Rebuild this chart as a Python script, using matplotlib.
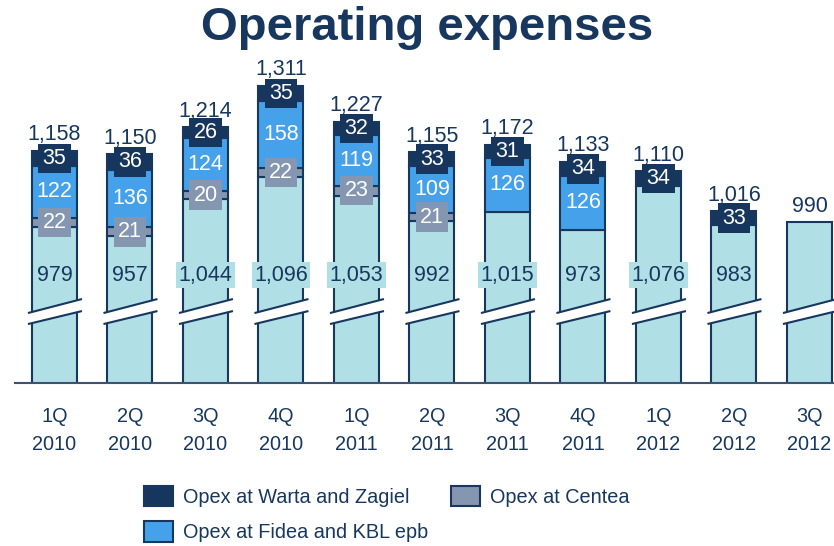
import numpy as np
import matplotlib
matplotlib.use("Agg")
import matplotlib.pyplot as plt
from matplotlib.patches import Patch, Polygon

plt.rcParams['font.family'] = ['Liberation Sans', 'DejaVu Sans']

quarters = ["1Q\n2010", "2Q\n2010", "3Q\n2010", "4Q\n2010", "1Q\n2011", "2Q\n2011",
            "3Q\n2011", "4Q\n2011", "1Q\n2012", "2Q\n2012", "3Q\n2012"]
base = [979, 957, 1044, 1096, 1053, 992, 1015, 973, 1076, 983, 990]
centea = [22, 21, 20, 22, 23, 21, 0, 0, 0, 0, 0]
fidea = [122, 136, 124, 158, 119, 109, 126, 126, 0, 0, 0]
warta = [35, 36, 26, 35, 32, 33, 31, 34, 34, 33, 0]
totals = [1158, 1150, 1214, 1311, 1227, 1155, 1172, 1133, 1110, 1016, 990]

navy = "#17375E"
c_base = "#B0DFE5"
c_centea = "#8496B0"
c_fidea = "#45A2EA"
c_warta = "#17365D"

fig = plt.figure(figsize=(8.34, 5.46), dpi=100)
ax = fig.add_axes([15 / 834, 1 - 383 / 546, 1 - 15 / 834, (383 - 55) / 546])

x = np.arange(len(quarters))
w = 0.596
base_a = np.array(base, float)
centea_a = np.array(centea, float)
fidea_a = np.array(fidea, float)
warta_a = np.array(warta, float)

ax.bar(x, base_a, w, color=c_base, edgecolor=navy, linewidth=1.5, zorder=2)
bottom = base_a.copy()
for vals, col in [(centea_a, c_centea), (fidea_a, c_fidea), (warta_a, c_warta)]:
    m = vals > 0
    ax.bar(x[m], vals[m], w, bottom=bottom[m], color=col, edgecolor=navy,
           linewidth=1.5, zorder=2)
    bottom = bottom + vals

ax.set_ylim(611.9, 1383.7)
ax.set_xlim(-0.523, 10.325)

# axis break marks
for xi in x:
    xl, xr = xi - 0.351, xi + 0.364
    poly = Polygon([(xl, 750.6), (xl, 776.5), (xr, 809.5), (xr, 781.2)],
                   closed=True, facecolor="white", edgecolor="none", zorder=3)
    ax.add_patch(poly)
    ax.plot([xl, xr], [776.5, 809.5], color=navy, lw=1.5, zorder=4,
            solid_capstyle="butt")
    ax.plot([xl, xr], [750.6, 781.2], color=navy, lw=1.5, zorder=4,
            solid_capstyle="butt")

fs = 15.5
for i in x:
    if totals[i] != base[i]:
        ax.text(i, 866, f"{base[i]:,}", ha="center", va="center", fontsize=fs,
                color=navy, zorder=5,
                bbox=dict(boxstyle="square,pad=0.12", fc=c_base, ec="none"))
    b = base[i]
    if centea[i]:
        ax.text(i, b + centea[i] / 2, str(centea[i]), ha="center", va="center",
                fontsize=fs, color="white", zorder=5,
                bbox=dict(boxstyle="square,pad=0.2", fc=c_centea, ec="none"))
    b += centea[i]
    if fidea[i]:
        ax.text(i, b + fidea[i] / 2, str(fidea[i]), ha="center", va="center",
                fontsize=fs, color="white", zorder=5)
    b += fidea[i]
    if warta[i]:
        ax.text(i, b + warta[i] / 2, str(warta[i]), ha="center", va="center",
                fontsize=fs, color="white", zorder=5,
                bbox=dict(boxstyle="square,pad=0.2", fc=c_warta, ec="none"))
    ax.annotate(f"{totals[i]:,}", (i, totals[i]), xytext=(0, 4),
                textcoords="offset points", ha="center", va="bottom",
                fontsize=fs, color=navy, zorder=5)

ax.set_xticks(x)
ax.set_xticklabels(quarters, fontsize=14.3, color=navy, linespacing=1.6)
ax.tick_params(axis="x", length=0, pad=17)
ax.set_yticks([])
for s in ["left", "right", "top"]:
    ax.spines[s].set_visible(False)
ax.spines["bottom"].set_color("#3E5272")
ax.spines["bottom"].set_linewidth(1.5)
ax.spines["bottom"].set_zorder(6)

fig.text(0.512, 1 - 28 / 546, "Operating expenses", ha="center", va="center",
         fontsize=34, fontweight="bold", color=navy)

handles = [Patch(fc=c_warta, ec=navy, lw=1.5, label="Opex at Warta and Zagiel"),
           Patch(fc=c_fidea, ec=navy, lw=1.5, label="Opex at Fidea and KBL epb"),
           Patch(fc=c_centea, ec=navy, lw=1.5, label="Opex at Centea")]
leg = fig.legend(handles=handles, loc="upper left",
                 bbox_to_anchor=(144 / 834, 1 - 486 / 546), ncol=2,
                 frameon=False, fontsize=14.3, handlelength=1.45,
                 handleheight=1.2, handletextpad=0.5, columnspacing=1.15,
                 labelspacing=0.72, borderpad=0, borderaxespad=0)
for t in leg.get_texts():
    t.set_color(navy)

fig.savefig("out.png", dpi=100)
